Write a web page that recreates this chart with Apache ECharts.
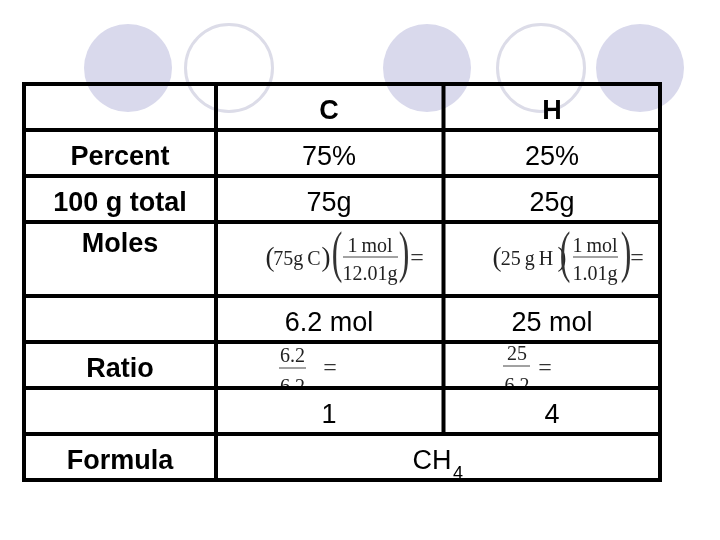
<!DOCTYPE html>
<html>
<head>
	<title></title>
	<script src="https://cdn.jsdelivr.net/npm/echarts@6/dist/echarts.min.js"></script>
	<style>
	html, body { margin: 0; padding: 0; background: #fff; }
	#main { width: 720px; height: 540px; }
	</style>
</head>
<body>
	<div id="main"></div>
	<script>
		// table content
		var columnHeads = ['C', 'H'];
		var rowHeads = ['Percent', '100 g total', 'Moles', 'Ratio', 'Formula'];
		var percents = ['75%', '25%'];
		var grams = ['75g', '25g'];
		var moles = ['6.2 mol', '25 mol'];
		var ratios = ['1', '4'];
		var formula = ['CH', '4'];
		var conversions = [
			['(', '75g\u2009C', ')', '1\u2009mol', '12.01g'],
			['(', '25\u2009g\u2009H', ')', '1\u2009mol', '1.01g']
		];
		var divisions = [['6.2', '6.2'], ['25', '6.2']];

		// layout, in page pixels
		var hRules = [84, 130, 176, 222, 296, 342, 388, 434, 480];
		var vRules = [[24, 480], [216, 480], [443.5, 434], [660, 480]];
		var discs = [[128, 68], [427, 68], [640, 68]];
		var rings = [[229, 68], [541, 68]];
		var colX = [329, 552];

		var marks = [];
		function put(text, x, y, kind) {
			marks.push({ text: text, x: x, y: y, kind: kind });
		}
		var kinds = {
			bold: { font: 'bold 27px "Liberation Sans"', fill: '#000' },
			plain: { font: '27px "Liberation Sans"', fill: '#000' },
			sub: { font: '18px "Liberation Sans"', fill: '#000' },
			serif: { font: '20px "Liberation Serif"', fill: '#222' },
			paren: { font: '27px "Liberation Serif"', fill: '#222' },
			tall: { font: '58px "Liberation Serif"', fill: '#333', scaleX: 0.55 },
			eq: { font: '24px "Liberation Serif"', fill: '#333' }
		};

		[156, 202, 243, 368, 460].forEach(function (y, i) {
			put(rowHeads[i], 120, y, 'bold');
		});
		colX.forEach(function (x, i) {
			put(columnHeads[i], x, 110, 'bold');
			put(percents[i], x, 156, 'plain');
			put(grams[i], x, 202, 'plain');
			put(moles[i], x, 322, 'plain');
			put(ratios[i], x, 414, 'plain');
		});
		put(formula[0], 432, 460, 'plain');
		put(formula[1], 458, 472, 'sub');

		// unit conversions, left then right
		[[270, 297, 326, 370, 417, 337, 404, 343, 398],
		 [497, 527, 562, 595, 637, 565, 626, 573, 618]].forEach(function (p, i) {
			var c = conversions[i];
			put(c[0], p[0], 257, 'paren');
			put(c[1], p[1], 258, 'serif');
			put(c[2], p[2], 257, 'paren');
			put('(', p[5], 254, 'tall');
			put(')', p[6], 254, 'tall');
			put(c[3], p[3], 245, 'serif');
			put(c[4], p[3], 273, 'serif');
			put('=', p[4], 257, 'eq');
		});

		// divisions, lower digits run into the rule below
		var divX = [[292.5, 279, 306, 330], [517, 503, 530, 545]];
		var divY = [[355, 386, 368], [353, 385, 366]];
		divX.forEach(function (p, i) {
			put(divisions[i][0], p[0], divY[i][0], 'serif');
			put(divisions[i][1], p[0], divY[i][1], 'serif');
			put('=', p[3], 367, 'eq');
		});

		// fraction bars
		var bars = [
			[343, 398, 257], [573, 618, 257],
			[279, 306, 368], [503, 530, 366]
		];

		function ruleItem(params, api) {
			var a = api.coord([api.value(0), api.value(1)]);
			var b = api.coord([api.value(2), api.value(3)]);
			return {
				type: 'line',
				shape: { x1: a[0], y1: a[1], x2: b[0], y2: b[1] },
				style: { stroke: api.value(5) ? '#444' : '#000', lineWidth: api.value(4) }
			};
		}

		var ruleData = [];
		hRules.forEach(function (y) { ruleData.push([22, y, 662, y, 4, 0]); });
		vRules.forEach(function (v) { ruleData.push([v[0], 82, v[0], v[1] + 2, 4, 0]); });

		var barData = bars.map(function (b) { return [b[0], b[2], b[1], b[2], 1, 1]; });

		var main = document.getElementById('main');
		var myChart = echarts.init(main);

		var option = {
			backgroundColor: '#fff',
			animation: false,
			grid: { left: 0, right: 0, top: 0, bottom: 0 },
			xAxis: { type: 'value', min: 0, max: 720, show: false },
			yAxis: { type: 'value', min: 0, max: 540, inverse: true, show: false },
			series: [
				{
					type: 'scatter', silent: true, z: 1,
					symbol: 'circle', symbolSize: 88,
					itemStyle: { color: '#d9d9ec', opacity: 1 },
					data: discs
				},
				{
					type: 'scatter', silent: true, z: 1,
					symbol: 'circle', symbolSize: 87,
					itemStyle: { color: '#fff', borderColor: '#dcdce8', borderWidth: 3, opacity: 1 },
					data: rings
				},
				{
					type: 'custom', silent: true, z: 2, clip: false,
					renderItem: function (params, api) {
						var m = marks[params.dataIndex];
						var p = api.coord([api.value(0), api.value(1)]);
						var k = kinds[m.kind];
						return {
							type: 'text',
							// middle sits about 2px high for these fonts
							x: p[0], y: p[1] + 2,
							scaleX: k.scaleX || 1,
							style: {
								text: m.text, font: k.font, fill: k.fill,
								align: 'center', verticalAlign: 'middle'
							}
						};
					},
					data: marks.map(function (m) { return [m.x, m.y]; })
				},
				{
					// hides what runs below the ratio rule
					type: 'custom', silent: true, z: 3, clip: false,
					renderItem: function (params, api) {
						var a = api.coord([api.value(0), api.value(1)]);
						var b = api.coord([api.value(2), api.value(3)]);
						return {
							type: 'rect',
							shape: { x: a[0], y: a[1], width: b[0] - a[0], height: b[1] - a[1] },
							style: { fill: '#fff' }
						};
					},
					data: [[260, 388, 350, 402], [490, 388, 560, 402]]
				},
				{ type: 'custom', silent: true, z: 4, clip: false, renderItem: ruleItem, data: barData },
				{ type: 'custom', silent: true, z: 5, clip: false, renderItem: ruleItem, data: ruleData }
			]
		};
		myChart.setOption(option);
	</script>
</body>
</html>
